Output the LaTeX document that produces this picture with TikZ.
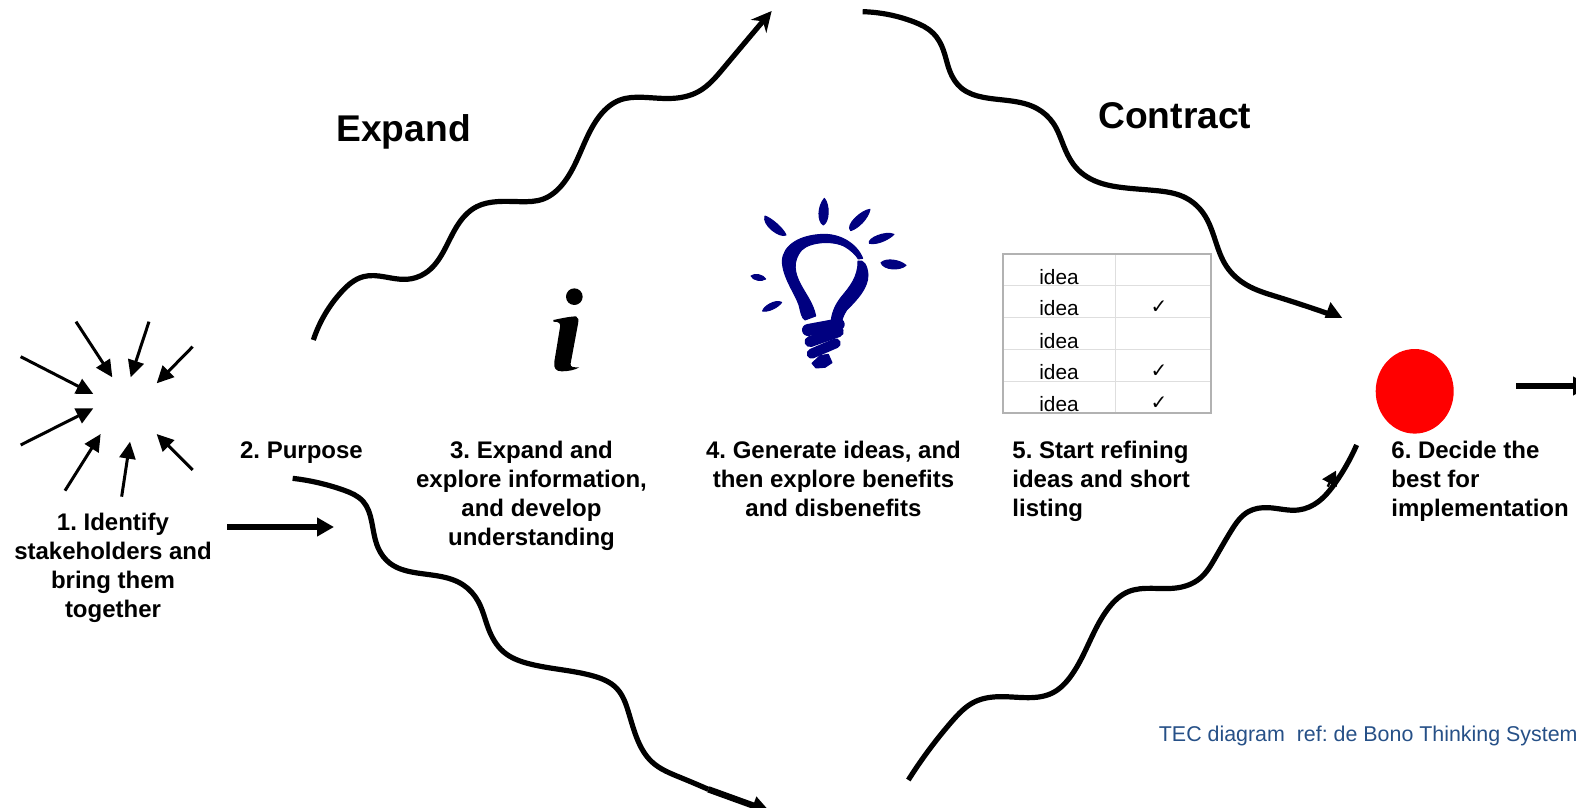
\documentclass[tikz,border=0pt]{standalone}
\usepackage{fontspec}
\setmainfont{Liberation Sans}
\newfontfamily\symfont{DejaVu Sans}
\usetikzlibrary{arrows.meta,shapes.geometric,hobby}
\definecolor{bulbblue}{RGB}{0,0,128}
\definecolor{tecblue}{RGB}{38,80,135}
\definecolor{tableouter}{RGB}{178,178,178}
\definecolor{tableinner}{RGB}{222,222,222}
\tikzset{
  wave/.style={line width=2.6pt,black,use Hobby shortcut},
  burst/.style={line width=1.5pt,-{Triangle[length=8.5pt,width=8pt]}},
  bigarrow/.style={line width=3pt,-{Triangle[length=8.5pt,width=9pt]}},
  stext/.style={inner sep=0pt,font=\fontsize{12}{14.5}\selectfont\bfseries},
  heading/.style={inner sep=0pt,anchor=base west,font=\fontsize{18.6}{20}\selectfont\bfseries},
  idea/.style={inner sep=0pt,anchor=base,font=\fontsize{10.4}{12}\selectfont},
  tickmark/.style={inner sep=0pt,font=\fontsize{10}{12}\symfont},
  bulb/.style={fill=bulbblue,draw=bulbblue,line width=0.5pt,line join=round},
  thread/.style={draw=bulbblue,line cap=round}
}
\begin{document}
\frenchspacing
\begin{tikzpicture}[x=0.5pt,y=-0.5pt]
\path[use as bounding box] (0,0) rectangle (1576,808);
\clip (0,0) rectangle (1576,808);

% burst of arrows
\begin{scope}[shift={(0,310)},scale=0.33333]
\coordinate (b1s) at (62,140);  \coordinate (b1e) at (280,252);
\coordinate (b2s) at (62,405);  \coordinate (b2e) at (280,295);
\coordinate (b3s) at (228,35);  \coordinate (b3e) at (337,202);
\coordinate (b4s) at (447,35);  \coordinate (b4e) at (392,202);
\coordinate (b5s) at (578,110); \coordinate (b5e) at (470,220);
\coordinate (b6s) at (195,542); \coordinate (b6e) at (302,372);
\coordinate (b7s) at (365,560); \coordinate (b7e) at (390,395);
\coordinate (b8s) at (578,480); \coordinate (b8e) at (470,372);
\end{scope}
\foreach \i in {1,...,8} {\draw[burst] (b\i s) -- (b\i e);}

% text labels
\node[stext,anchor=north,align=center] (t1) at (113,513) {1. Identify\\stakeholders and\\bring them\\together};
\node[stext,anchor=north,align=center] (t2) at (301.5,441.5) {2. Purpose};
\node[stext,anchor=north,align=center] (t3) at (531.5,441) {3. Expand and\\explore information,\\and develop\\understanding};
\node[stext,anchor=north,align=center] (t4) at (833.5,441) {4. Generate ideas, and\\then explore benefits\\and disbenefits};
\node[stext,anchor=north west,align=left] (t5) at (1012,441) {5. Start refining\\ideas and short\\listing};
\node[stext,anchor=north west,align=left] (t6) at (1391,441) {6. Decide the\\best for\\implementation};
\node[heading] (expand) at (336,141.7) {Expand};
\node[heading] (contract) at (1098,128.3) {Contract};
\node[inner sep=0pt,anchor=base west,text=tecblue,font=\fontsize{10.7}{12}\selectfont] (tec) at (1158.5,741) {TEC diagram\ \ ref: de Bono Thinking System};

% wave top left
\begin{scope}[shift={(300,0)},scale=0.33333]
\coordinate (w1s) at (40,1020); \coordinate (w1e) at (1415,33);
\draw[wave,-{Stealth[length=10pt,width=10pt]}] (w1s) .. (125,875) .. (190,830) .. (320,838) .. (375,820) .. (470,680) .. (530,620) .. (590,605) .. (660,605) .. (730,597) .. (790,550) .. (890,360) .. (960,300) .. (1030,292) .. (1120,295) .. (1195,275) .. (1270,205) .. (w1e);
\end{scope}

% wave top right
\begin{scope}[shift={(850,0)},scale=0.33333]
\coordinate (w2s) at (38,35); \coordinate (w2e) at (1480,958);
\draw[wave,-{Triangle[length=9pt,width=11pt]}] (w2s) .. (190,65) .. (250,100) .. (280,150) .. (300,215) .. (335,265) .. (400,292) .. (560,325) .. (610,370) .. (640,435) .. (680,505) .. (740,545) .. (820,563) .. (920,572) .. (1000,590) .. (1060,640) .. (1130,800) .. (1190,855) .. (1280,890) .. (w2e);
\fill[white] (1380,955) rectangle (1560,1010);
\end{scope}

% wave bottom left
\begin{scope}[shift={(280,465)},scale=0.33333]
\coordinate (w3s) at (38,40); \coordinate (w3m) at (1285,973); \coordinate (w3e) at (1470,1040);
\draw[wave] (w3s) .. (190,75) .. (250,110) .. (275,170) .. (295,250) .. (330,295) .. (400,322) .. (550,360) .. (595,410) .. (625,490) .. (670,560) .. (750,597) .. (940,633) .. (1010,670) .. (1045,740) .. (1075,830) .. (1115,890) .. (1200,937) .. (w3m);
\draw[line width=3.2pt,-{Triangle[length=9pt,width=9pt]}] (w3m) -- (w3e);
\end{scope}

% wave bottom right
\begin{scope}[shift={(895,435)},scale=0.33333]
\coordinate (w4s) at (40,1035); \coordinate (w4e) at (1385,30);
\coordinate (w4as) at (1298,155); \coordinate (w4ae) at (1323,107);
\draw[wave] (w4s) .. (170,860) .. (240,800) .. (320,785) .. (400,788) .. (470,775) .. (530,720) .. (640,520) .. (700,470) .. (770,460) .. (850,458) .. (915,430) .. (960,370) .. (1010,285) .. (1060,230) .. (1120,218) .. (1210,225) .. (1270,200) .. (1320,145) .. (w4e);
\draw[line width=1.2pt,-{Triangle[length=7pt,width=8pt]}] (w4as) -- (w4ae);
\end{scope}

% horizontal arrows
\coordinate (a1s) at (227,527); \coordinate (a1e) at (334,527);
\draw[bigarrow] (a1s) -- (a1e);
\coordinate (a2s) at (1516,386); \coordinate (a2e) at (1590,386);
\draw[bigarrow] (a2s) -- (a2e);

% red decision dot
\node[fill=red,draw=none,ellipse,inner sep=0pt,minimum width=39pt,minimum height=42.3pt] (dot) at (1414.7,391.3) {};

% info sign
\begin{scope}[shift={(530,270)},scale=0.33333]
\fill (133,80) circle (25);
\fill (70,150) .. controls (90,146) and (115,140) .. (138,139) .. controls (146,142) and (146,150) .. (144,162)
  -- (122,280) .. controls (120,292) and (128,292) .. (148,292) .. controls (135,300) and (115,304) .. (95,304)
  .. controls (78,304) and (70,295) .. (73,275) -- (90,172) .. controls (92,160) and (88,155) .. (70,155) -- cycle;
\end{scope}

% light bulb
\begin{scope}[shift={(730,190)},scale=0.33333]
% rays
\fill[bulb] (283,25) .. controls (300,45) and (298,95) .. (280,105) .. controls (262,95) and (262,50) .. (283,25) -- cycle;
\fill[bulb] (105,78) .. controls (125,85) and (160,115) .. (168,135) .. controls (150,145) and (95,105) .. (105,78) -- cycle;
\fill[bulb] (420,58) .. controls (415,85) and (385,115) .. (362,122) .. controls (345,105) and (395,60) .. (420,58) -- cycle;
\fill[bulb] (492,133) .. controls (475,150) and (440,165) .. (418,160) .. controls (412,145) and (465,122) .. (492,133) -- cycle;
\fill[bulb] (453,218) .. controls (470,203) and (510,210) .. (528,226) .. controls (510,243) and (460,240) .. (453,218) -- cycle;
\fill[bulb] (63,258) .. controls (75,248) and (100,255) .. (107,267) .. controls (95,275) and (70,272) .. (63,258) -- cycle;
\fill[bulb] (155,337) .. controls (145,352) and (115,367) .. (98,363) .. controls (100,350) and (135,327) .. (155,337) -- cycle;
% glass
\fill[bulb] (398,205) .. controls (380,160) and (330,132) .. (280,133) .. controls (210,135) and (160,165) .. (157,212)
  .. controls (157,260) and (195,310) .. (207,345) .. controls (212,365) and (215,385) .. (225,390)
  -- (257,378) .. controls (250,340) and (225,310) .. (210,280) .. controls (195,250) and (185,215) .. (215,180)
  .. controls (240,155) and (310,150) .. (345,170) .. controls (365,182) and (378,195) .. (385,207) -- cycle;
\fill[bulb] (384,213) .. controls (400,208) and (412,225) .. (414,255) .. controls (414,295) and (380,330) .. (350,360)
  .. controls (340,375) and (335,390) .. (335,398) -- (303,398) .. controls (305,370) and (315,345) .. (335,320)
  .. controls (360,290) and (385,260) .. (384,213) -- cycle;
% screw base
\draw[thread,line width=6pt] (234,420) -- (326,403);
\draw[thread,line width=5.5pt] (240,455) -- (325,425);
\draw[thread,line width=5pt] (245,491) -- (317,460);
\fill[bulb] (246,520) -- (270,497) -- (295,493) -- (306,518) -- (285,532) -- (258,534) -- cycle;
\end{scope}

% idea table
\begin{scope}[shift={(990,245)},scale=0.33333]
\coordinate (tl) at (40,27); \coordinate (br) at (662,505);
\foreach \yy in {122,217,313,409} {\draw[tableinner,line width=0.6pt] (40,\yy) -- (662,\yy);}
\draw[tableinner,line width=0.6pt] (377,27) -- (377,505);
\draw[tableouter,line width=0.85pt] (tl) rectangle (br);
\foreach \yy/\nn in {118/i1,213/i2,310/i3,405/i4,500/i5} {\node[idea] (\nn) at (207,\yy) {idea};}
\node[tickmark] (c1) at (507,186) {✓};
\node[tickmark] (c2) at (507,379) {✓};
\node[tickmark] (c3) at (507,475) {✓};
\end{scope}

% mask cutting the two central heads
\fill[white] (60,394) rectangle (100,408);
\end{tikzpicture}
\end{document}
